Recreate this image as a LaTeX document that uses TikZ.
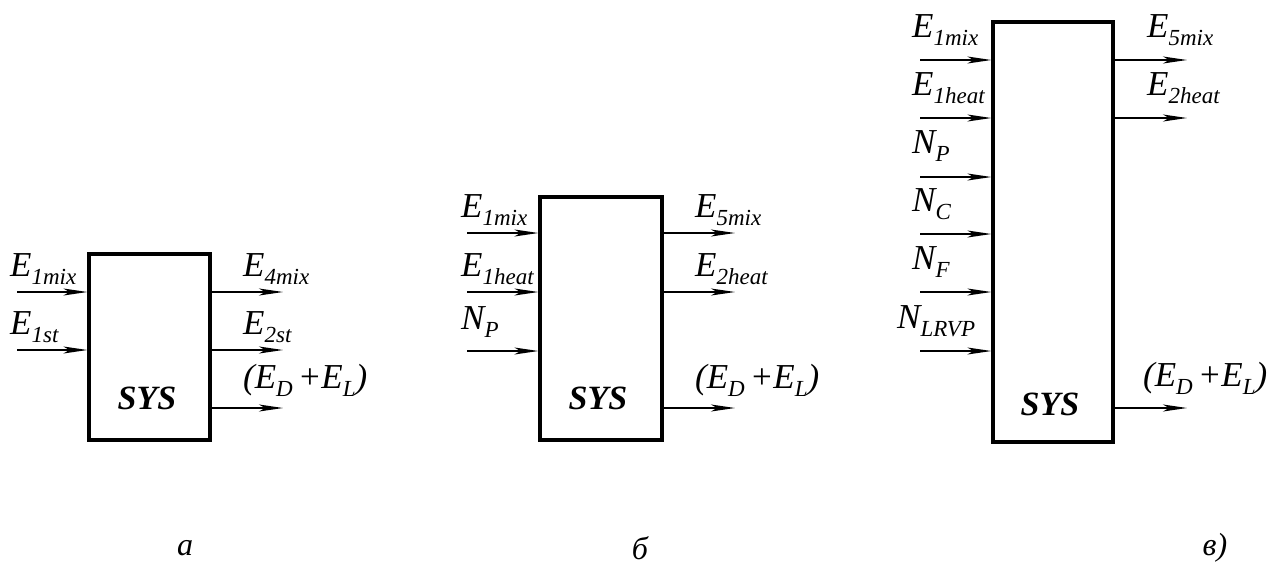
\documentclass[tikz,border=0pt]{standalone}
\usepackage{fontspec}
\setmainfont{Liberation Serif}
\usetikzlibrary{arrows.meta}
\newcommand{\sbs}[1]{\raisebox{-8pt}{\fontsize{23}{23}\selectfont #1}}
\newcommand{\lab}[2]{#1\sbs{#2}}
\tikzset{
  sysbox/.style={draw, line width=3.2pt, inner sep=0pt},
  arr/.style={line width=1.5pt, -{Stealth[length=24pt,width=7pt,inset=6pt]}},
  lbl/.style={anchor=base west, inner sep=0pt, font=\fontsize{35}{35}\selectfont\itshape},
  systext/.style={font=\fontsize{34}{34}\selectfont\bfseries\itshape},
  captext/.style={font=\fontsize{32}{32}\selectfont\itshape}
}
\begin{document}
\begin{tikzpicture}[x=1pt,y=-1pt]
\useasboundingbox (0,0) rectangle (1280,571);
% ---------- a ----------
\node[sysbox, minimum width=121pt, minimum height=186pt] (A) at (149.5,347) {};
\node[systext] (Asys) at (147,398) {SYS};
\coordinate (ai1) at (17,292);
\coordinate (ai2) at (17,350);
\coordinate (ao1) at (283,292);
\coordinate (ao2) at (283,350);
\coordinate (ao3) at (283,408);
\draw[arr] (ai1) -- (ai1 -| A.west);
\draw[arr] (ai2) -- (ai2 -| A.west);
\draw[arr] (ao1 -| A.east) -- (ao1);
\draw[arr] (ao2 -| A.east) -- (ao2);
\draw[arr] (ao3 -| A.east) -- (ao3);
\node[lbl] (la1) at (10,276) {\lab{E}{1mix}};
\node[lbl] (la2) at (10,334) {\lab{E}{1st}};
\node[lbl] (la3) at (243,276) {\lab{E}{4mix}};
\node[lbl] (la4) at (243,334) {\lab{E}{2st}};
\node[lbl] (la5) at (243,388) {(\lab{E}{D}\kern5pt+\lab{E}{L})};
\node[captext] (ca) at (185,548) {а};
% ---------- b ----------
\node[sysbox, minimum width=122pt, minimum height=243pt] (B) at (601,318.5) {};
\node[systext] (Bsys) at (598,398) {SYS};
\coordinate (bi1) at (467,233);
\coordinate (bi2) at (467,292);
\coordinate (bi3) at (467,351);
\coordinate (bo1) at (735,233);
\coordinate (bo2) at (735,292);
\coordinate (bo3) at (735,408);
\draw[arr] (bi1) -- (bi1 -| B.west);
\draw[arr] (bi2) -- (bi2 -| B.west);
\draw[arr] (bi3) -- (bi3 -| B.west);
\draw[arr] (bo1 -| B.east) -- (bo1);
\draw[arr] (bo2 -| B.east) -- (bo2);
\draw[arr] (bo3 -| B.east) -- (bo3);
\node[lbl] (lb1) at (461,217) {\lab{E}{1mix}};
\node[lbl] (lb2) at (461,276) {\lab{E}{1heat}};
\node[lbl] (lb3) at (461,329) {\lab{N}{P}};
\node[lbl] (lb4) at (695,217) {\lab{E}{5mix}};
\node[lbl] (lb5) at (695,276) {\lab{E}{2heat}};
\node[lbl] (lb6) at (695,388) {(\lab{E}{D}\kern5pt+\lab{E}{L})};
\node[captext] (cb) at (640,548) {б};
% ---------- c ----------
\node[sysbox, minimum width=120pt, minimum height=420pt] (C) at (1053,232) {};
\node[systext] (Csys) at (1050,404) {SYS};
\coordinate (ci1) at (920,60);
\coordinate (ci2) at (920,118);
\coordinate (ci3) at (920,177);
\coordinate (ci4) at (920,234);
\coordinate (ci5) at (920,292);
\coordinate (ci6) at (920,351);
\coordinate (co1) at (1187,60);
\coordinate (co2) at (1187,118);
\coordinate (co3) at (1187,408);
\draw[arr] (ci1) -- (ci1 -| C.west);
\draw[arr] (ci2) -- (ci2 -| C.west);
\draw[arr] (ci3) -- (ci3 -| C.west);
\draw[arr] (ci4) -- (ci4 -| C.west);
\draw[arr] (ci5) -- (ci5 -| C.west);
\draw[arr] (ci6) -- (ci6 -| C.west);
\draw[arr] (co1 -| C.east) -- (co1);
\draw[arr] (co2 -| C.east) -- (co2);
\draw[arr] (co3 -| C.east) -- (co3);
\node[lbl] (lc1) at (912,37) {\lab{E}{1mix}};
\node[lbl] (lc2) at (912,95) {\lab{E}{1heat}};
\node[lbl] (lc3) at (912,153) {\lab{N}{P}};
\node[lbl] (lc4) at (912,211) {\lab{N}{C}};
\node[lbl] (lc5) at (912,269) {\lab{N}{F}};
\node[lbl] (lc6) at (897,328) {\lab{N}{LRVP}};
\node[lbl] (lc7) at (1147,37) {\lab{E}{5mix}};
\node[lbl] (lc8) at (1147,95) {\lab{E}{2heat}};
\node[lbl] (lc9) at (1143,386) {(\lab{E}{D}\kern5pt+\lab{E}{L})};
\node[captext] (cc) at (1215,548) {в)};
\end{tikzpicture}
\end{document}
